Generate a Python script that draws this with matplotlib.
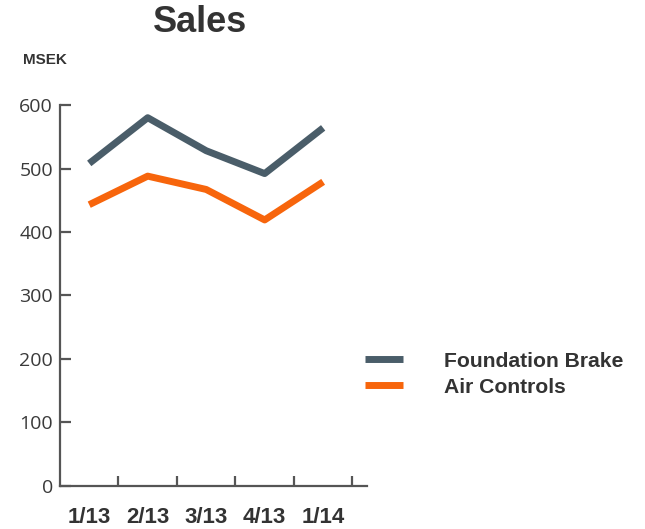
import numpy as np
import matplotlib.pyplot as plt

# quarterly sales, MSEK
quarters = ["1/13", "2/13", "3/13", "4/13", "1/14"]
foundation_brake = [508, 580, 528, 492, 564]
air_controls = [443, 488, 467, 419, 479]

slate = "#4a5d69"
orange = "#f7650c"
dark = "#333333"

fig = plt.figure(figsize=(6.45, 5.29), dpi=100)
ax = fig.add_axes([0.093, 0.0813, 0.476, 0.7202])

x = np.arange(len(quarters)) + 0.5
ax.plot(x, foundation_brake, color=slate, lw=5, solid_capstyle="butt",
        label="Foundation Brake")
ax.plot(x, air_controls, color=orange, lw=5, solid_capstyle="butt",
        label="Air Controls")

ax.set_xlim(0, 5.25)
ax.set_ylim(0, 600)

for side in ("top", "right"):
    ax.spines[side].set_visible(False)
for side in ("left", "bottom"):
    ax.spines[side].set_color("#555555")
    ax.spines[side].set_linewidth(1.6)

# tick marks sit between quarters, labels under each quarter
ax.set_xticks(np.arange(1, 6))
ax.set_xticklabels([])
ax.set_xticks(x, minor=True)
ax.set_xticklabels(quarters, minor=True, fontsize=16, fontweight="bold",
                   color=dark, family="Liberation Sans")
ax.tick_params(axis="x", which="major", direction="in", length=7,
               width=1.6, color="#555555")
ax.tick_params(axis="x", which="minor", length=0, pad=15)

ax.set_yticks(np.arange(0, 601, 100))
ax.tick_params(axis="y", direction="in", length=8, width=1.6,
               color="#555555", pad=5, labelsize=14, labelcolor="#3a3a3a")
for lbl in ax.get_yticklabels():
    lbl.set_family("Open Sans")

fig.text(0.31, 0.958, "Sales", ha="center", va="center", fontsize=26,
         fontweight="bold", color=dark, family="Liberation Sans")
fig.text(0.036, 0.886, "MSEK", ha="left", va="center", fontsize=11,
         fontweight="bold", color=dark, family="Liberation Sans")

leg = fig.legend(loc="upper left", bbox_to_anchor=(0.55, 0.355),
                 frameon=False, borderpad=0, handlelength=1.8,
                 handletextpad=1.95, labelspacing=0.32,
                 prop={"family": "Liberation Sans", "weight": "bold",
                       "size": 15.2})
for t in leg.get_texts():
    t.set_color(dark)

fig.savefig("out.png", dpi=100)
